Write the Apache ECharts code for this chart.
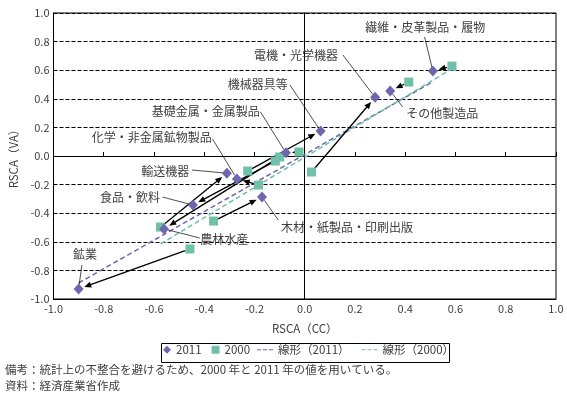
<!DOCTYPE html>
<html>
<head>
<meta charset="utf-8">
<script src="https://cdn.jsdelivr.net/npm/echarts@6/dist/echarts.min.js"></script>
<style>
html, body { margin: 0; padding: 0; background: #fff; }
#main { width: 567px; height: 399px; }
</style>
</head>
<body>
<div id="main"></div>
<script>
// 産業別 RSCA（CC） と RSCA（VA）
const industries = ['鉱業', '農林水産', '食品・飲料', '輸送機器', '化学・非金属鉱物製品', '基礎金属・金属製品',
  '機械器具等', '電機・光学機器', '繊維・皮革製品・履物', 'その他製造品', '木材・紙製品・印刷出版'];
const cc2011 = [-0.90, -0.56, -0.445, -0.31, -0.27, -0.075, 0.063, 0.28, 0.51, 0.34, -0.17];
const va2011 = [-0.93, -0.51, -0.343, -0.12, -0.16, 0.022, 0.175, 0.41, 0.594, 0.455, -0.287];
const cc2000 = [-0.457, -0.10, -0.117, -0.574, -0.184, -0.023, -0.227, 0.027, 0.586, 0.414, -0.363];
const va2000 = [-0.65, -0.007, -0.035, -0.497, -0.203, 0.028, -0.105, -0.112, 0.629, 0.517, -0.455];
// 線形近似（端点を図から読んだもの）
const trend2011 = [[-0.90, -0.888], [0.51, 0.52]];
const trend2000 = [[-0.574, -0.615], [0.586, 0.61]];

// ラベル位置（データ座標）：文字中心 tx,ty / 引出線の始点 lx,ly
const labelPos = [
  { tx: -0.875, ty: -0.685, lx: -0.887, ly: -0.762 },
  { tx: -0.32, ty: -0.58, lx: -0.418, ly: -0.573 },
  { tx: -0.695, ty: -0.287, lx: -0.566, ly: -0.287 },
  { tx: -0.555, ty: -0.105, lx: -0.449, ly: -0.098 },
  { tx: -0.609, ty: 0.133, lx: -0.367, ly: 0.119 },
  { tx: -0.394, ty: 0.315, lx: -0.176, ly: 0.308 },
  { tx: -0.1875, ty: 0.497, lx: -0.059, ly: 0.497 },
  { tx: -0.035, ty: 0.70, lx: 0.152, ly: 0.706 },
  { tx: 0.48, ty: 0.90, lx: 0.477, ly: 0.832 },
  { tx: 0.547, ty: 0.30, lx: 0.39, ly: 0.343 },
  { tx: 0.168, ty: -0.503, lx: -0.105, ly: -0.448 }
];

const textColor = '#404040';
const font = '"Noto Sans CJK JP", "Noto Sans", sans-serif';
const purple = '#6e66ae';
const teal = '#6fc1a9';
const dashIcon = 'path://M0,0h4v1h-4zM6,0h4v1h-4zM12,0h4v1h-4z';

const myChart = echarts.init(document.getElementById('main'));

function arrowItem(params, api) {
  const p0 = api.coord([api.value(0), api.value(1)]);
  const p1 = api.coord([api.value(2), api.value(3)]);
  const dx = p1[0] - p0[0], dy = p1[1] - p0[1];
  const len = Math.sqrt(dx * dx + dy * dy);
  const ux = dx / len, uy = dy / len;
  const s = [p0[0] + ux * 5, p0[1] + uy * 5];
  const e = [p1[0] - ux * 6, p1[1] - uy * 6];
  const head = 7, hw = 3;
  const b = [e[0] - ux * head, e[1] - uy * head];
  return {
    type: 'group',
    children: [
      { type: 'line', shape: { x1: s[0], y1: s[1], x2: b[0] + ux, y2: b[1] + uy }, style: { stroke: '#000', lineWidth: 1.3 } },
      { type: 'polygon', shape: { points: [e, [b[0] - uy * hw, b[1] + ux * hw], [b[0] + uy * hw, b[1] - ux * hw]] }, style: { fill: '#000' } }
    ]
  };
}

function labelItem(params, api) {
  const t = api.coord([api.value(0), api.value(1)]);
  const l = api.coord([api.value(2), api.value(3)]);
  const p = api.coord([api.value(4), api.value(5)]);
  const dx = p[0] - l[0], dy = p[1] - l[1];
  const len = Math.sqrt(dx * dx + dy * dy);
  const e = [p[0] - dx / len * 4, p[1] - dy / len * 4];
  return {
    type: 'group',
    children: [
      { type: 'line', shape: { x1: l[0], y1: l[1], x2: e[0], y2: e[1] }, style: { stroke: '#222', lineWidth: 0.8 } },
      { type: 'text', x: t[0], y: t[1], style: { text: industries[params.dataIndex], fill: textColor, font: '12px ' + font, align: 'center', verticalAlign: 'middle' } }
    ]
  };
}

const axisLabel = { formatter: v => v.toFixed(1), color: textColor, fontSize: 11, fontFamily: font };
const legendText = { color: textColor, fontSize: 11.5, fontFamily: font };

myChart.setOption({
  animation: false,
  textStyle: { fontFamily: font },
  grid: { left: 44, right: 11, top: 13, bottom: 100, show: true, borderColor: '#000', borderWidth: 1 },
  legend: [
    {
      data: [{ name: '2011', icon: 'diamond' }, { name: '2000', icon: 'rect' }],
      left: 163, top: 344, padding: 0,
      itemWidth: 8, itemHeight: 8, itemGap: 10,
      textStyle: legendText
    },
    {
      data: [{ name: '線形（2011）', icon: dashIcon }, { name: '線形（2000）', icon: dashIcon }],
      left: 257, top: 344, padding: 0,
      itemWidth: 16, itemHeight: 8, itemGap: 12,
      textStyle: legendText
    }
  ],
  xAxis: [
    {
      type: 'value', min: -1, max: 1, interval: 0.2, position: 'bottom',
      axisLine: { show: true, onZero: false, lineStyle: { color: '#000' } },
      axisTick: { show: false },
      axisLabel: Object.assign({ margin: 4 }, axisLabel),
      splitLine: { show: false },
      name: 'RSCA（CC）', nameLocation: 'middle', nameGap: 24,
      nameTextStyle: { color: textColor, fontSize: 11.5, fontFamily: font }
    },
    {
      type: 'value', min: -1, max: 1, interval: 0.2, position: 'bottom',
      axisLine: { show: true, onZero: true, lineStyle: { color: '#000' } },
      axisTick: { show: true, inside: true, length: 4, lineStyle: { color: '#000' } },
      axisLabel: { show: false },
      splitLine: { show: false }
    }
  ],
  yAxis: [
    {
      type: 'value', min: -1, max: 1, interval: 0.2, position: 'left',
      axisLine: { show: true, onZero: false, lineStyle: { color: '#000' } },
      axisTick: { show: false },
      axisLabel: Object.assign({ margin: 4 }, axisLabel),
      splitLine: { show: true, lineStyle: { color: '#000', width: 1, type: [4, 2] } },
      name: 'RSCA（VA）', nameLocation: 'middle', nameGap: 32,
      nameTextStyle: { color: textColor, fontSize: 11.5, fontFamily: font }
    },
    {
      type: 'value', min: -1, max: 1, interval: 0.2, position: 'left',
      axisLine: { show: true, onZero: true, lineStyle: { color: '#000' } },
      axisTick: { show: false },
      axisLabel: { show: false },
      splitLine: { show: false }
    }
  ],
  series: [
    {
      name: '線形（2011）', type: 'line', xAxisIndex: 0, yAxisIndex: 0, z: 1,
      symbol: 'none', data: trend2011,
      lineStyle: { color: purple, width: 1.5, type: [5, 3] }, itemStyle: { color: purple }
    },
    {
      name: '線形（2000）', type: 'line', xAxisIndex: 0, yAxisIndex: 0, z: 1,
      symbol: 'none', data: trend2000,
      lineStyle: { color: teal, width: 1.5, type: [5, 3] }, itemStyle: { color: teal }
    },
    {
      name: 'arrows', type: 'custom', xAxisIndex: 0, yAxisIndex: 0, z: 2,
      renderItem: arrowItem,
      data: industries.map((n, i) => [cc2000[i], va2000[i], cc2011[i], va2011[i]])
    },
    {
      name: 'labels', type: 'custom', xAxisIndex: 0, yAxisIndex: 0, z: 2,
      renderItem: labelItem,
      data: industries.map((n, i) => [labelPos[i].tx, labelPos[i].ty, labelPos[i].lx, labelPos[i].ly, cc2011[i], va2011[i]])
    },
    {
      name: '2000', type: 'scatter', xAxisIndex: 0, yAxisIndex: 0, z: 3,
      symbol: 'rect', symbolSize: 9,
      itemStyle: { color: teal, opacity: 1 },
      data: industries.map((n, i) => [cc2000[i], va2000[i]])
    },
    {
      name: '2011', type: 'scatter', xAxisIndex: 0, yAxisIndex: 0, z: 4,
      symbol: 'diamond', symbolSize: [10, 11],
      itemStyle: { color: purple, opacity: 1 },
      data: industries.map((n, i) => [cc2011[i], va2011[i]])
    }
  ],
  graphic: [
    { type: 'rect', left: 159, top: 341, shape: { width: 288, height: 19 }, style: { fill: 'none', stroke: '#000', lineWidth: 1 } },
    { type: 'text', left: 5, top: 364, style: { text: '備考：統計上の不整合を避けるため、2000 年と 2011 年の値を用いている。', fill: textColor, font: '11.5px ' + font } },
    { type: 'text', left: 5, top: 380, style: { text: '資料：経済産業省作成', fill: textColor, font: '11.5px ' + font } }
  ]
});

window.addEventListener('resize', function () {
  myChart.resize();
});
</script>
</body>
</html>
